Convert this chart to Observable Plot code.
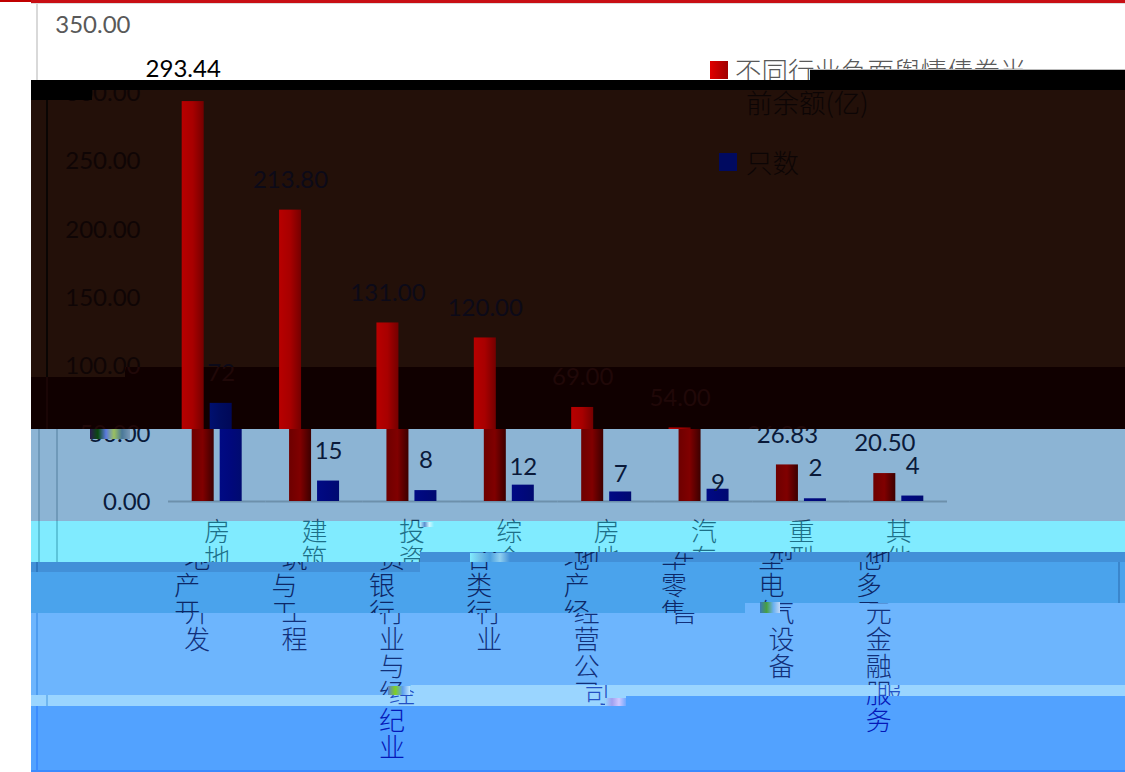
<!DOCTYPE html>
<html><head><meta charset="utf-8">
<script src="https://cdn.jsdelivr.net/npm/d3@7"></script>
<script src="https://cdn.jsdelivr.net/npm/@observablehq/plot@0.6"></script>
<style>
html,body{margin:0;padding:0;background:#fff;overflow:hidden;width:1125px;height:772px}
#page{position:relative;width:1125px;height:772px;overflow:hidden}
.layer{position:absolute;left:0;top:0;width:1125px;height:772px}
.inner{position:absolute;left:0;top:0;width:1125px;height:772px}
.inner svg{position:absolute;left:0;top:0;background:transparent;overflow:visible}
.vline{position:absolute;top:0;height:772px;width:2px}
.sw{position:absolute;width:18px;height:18px}
.lg{position:absolute;font:300 26.5px/32px "Noto Sans CJK SC",sans-serif;white-space:nowrap}
.fx{position:absolute}
</style></head><body><div id="page"></div>
<script>
const categories = ["房地产开发","建筑与工程","投资银行业与经纪业","综合类行业","房地产经营公司","汽车零售","重型电气设备","其他多元金融服务"];
const balance = [293.44,213.80,131.00,120.00,69.00,54.00,26.83,20.50];
const counts = [72,15,8,12,7,9,2,4];
const seriesNames = ["不同行业负面舆情债券当前余额(亿)","只数"];
const yTicks = [0,50,100,150,200,250,300,350];
const rows = categories.flatMap((c,i)=>[
  {cat:c,series:seriesNames[0],value:balance[i],label:balance[i].toFixed(2)},
  {cat:c,series:seriesNames[1],value:counts[i],label:String(counts[i])}
]);
const latin = 'Lato,"Open Sans",sans-serif';
const cjk = '"Noto Sans CJK SC",sans-serif';

function chart(L,id){
  const grad=(name,stops)=>()=>{
    const svg=d3.create("svg:defs");
    const g=svg.append("linearGradient").attr("id",name);
    stops.forEach((c,i)=>g.append("stop").attr("offset",i/2).attr("stop-color",c));
    return svg.node();
  };
  const labelMark=(test,dy)=>Plot.text(rows.filter(test),{fx:"cat",x:"series",y:"value",text:"label",dy,lineAnchor:"middle",fontSize:24,fontFamily:latin,fill:L.data});
  return Plot.plot({
    width:1125,height:772,marginLeft:168,marginRight:178,marginTop:24,marginBottom:271,
    style:{background:"transparent",overflow:"visible"},
    x:{axis:null,domain:seriesNames,paddingInner:0.214,paddingOuter:0.846,round:false},
    fx:{domain:categories,padding:0,label:null,round:false},
    y:{domain:[0,350],axis:null},
    marks:[
      grad("r"+id,L.red),
      grad("b"+id,L.blue),
      Plot.ruleY([0],{stroke:L.rule,strokeWidth:2}),
      Plot.barY(rows.filter(d=>d.series===seriesNames[0]),{fx:"cat",x:"series",y:"value",fill:`url(#r${id})`}),
      Plot.barY(rows.filter(d=>d.series===seriesNames[1]),{fx:"cat",x:"series",y:"value",fill:`url(#b${id})`}),
      labelMark(d=>!["293.44","12","7","9"].includes(d.label),-30),
      labelMark(d=>d.label==="293.44",-32),
      labelMark(d=>d.label==="12"||d.label==="7",-18),
      labelMark(d=>d.label==="9",-6),
      Plot.axisY({ticks:yTicks,tickFormat:d=>d.toFixed(2),tickSize:0,tickPadding:18,label:null,fontSize:24,fontFamily:latin,fill:L.axis,dy:1}),
      Plot.axisFx({anchor:"bottom",tickSize:0,tickPadding:20,label:null,lineHeight:1.04,fontSize:26,fontFamily:cjk,fontWeight:300,fill:L.cat,
        tickFormat:s=>[...s].join("\n")})
    ]
  });
}

const N="#0a1a3a";
const lowR=["#6e0000","#800000","#3c0000"], lowB=["#000a84","#00087c","#000a70"];
const layers=[
 {bg:"#fff",dx:-20,y:[0,80],clip:"0 0,1125px 0,1125px 70px,810px 70px,810px 80px,31px 80px,31px 772px,0 772px",
  red:["#e00000","#c00000","#a00000"],blue:["#000080","#000070","#000060"],rule:"#ccc",data:"#000",axis:"#595959",cat:"#595959",legend:"#595959",line:"#d9d9d9"},
 {bg:"#231009",dx:-10,y:[90,377],clip:"31px 90px,1125px 90px,1125px 367px,125px 367px,125px 377px,31px 377px",
  red:["#b80000","#a80000","#740000"],blue:["#000a60","#000a5c","#000050"],rule:"#111",data:"#0c0a18",axis:"#0f0505",cat:"#111",legend:"#0c0505",line:"#0a0503"},
 {bg:"#100000",dx:-10,y:[367,439],clip:"125px 367px,1125px 367px,1125px 429px,133px 429px,133px 439px,31px 439px,31px 377px,125px 377px",
  red:["#b80000","#a80000","#740000"],blue:["#001070","#000c60","#000858"],rule:"#111",data:"#200808",axis:"#200808",cat:"#111",legend:"#111",line:"#1a0505"},
 {bg:"#8cb4d4",dx:0,y:[429,521],clip:"31px 429px,1125px 429px,1125px 521px,31px 521px",line2:39,
  red:lowR,blue:lowB,rule:"#6d90ab",data:N,axis:N,cat:"#1c3f63",legend:N,line:"#6f99b9"},
 {bg:"#80ebff",dx:0,y:[521,562],clip:"31px 521px,1125px 521px,1125px 552px,420px 552px,420px 562px,31px 562px",line2:39,
  red:lowR,blue:lowB,rule:"#555",data:N,axis:N,cat:"#1d6f88",legend:N,line:"#5cc4da"},
 {bg:"#4290d8",dx:-20,y:[552,572],clip:"420px 552px,1125px 552px,1125px 562px,420px 562px,420px 572px,31px 572px,31px 562px,420px 562px",
  red:lowR,blue:lowB,rule:"#555",data:N,axis:N,cat:"#0b2560",legend:N,line:"#2f78c0"},
 {bg:"#4aa3ec",dx:-30,y:[562,613],clip:"31px 572px,420px 572px,420px 562px,1125px 562px,1125px 603px,745px 603px,745px 613px,31px 613px",edgeLine:"#3a86cc",
  red:lowR,blue:lowB,rule:"#555",data:N,axis:N,cat:"#0d2766",legend:N,line:"transparent"},
 {bg:"#6db5fd",dx:-20,y:[603,695],clip:"31px 613px,745px 613px,745px 603px,1125px 603px,1125px 685px,410px 685px,410px 695px,31px 695px",
  red:lowR,blue:lowB,rule:"#555",data:N,axis:N,cat:"#12307a",legend:N,line:"#4d9cf0"},
 {bg:"#9ad5ff",dx:-10,y:[685,706],clip:"31px 695px,410px 695px,410px 685px,1125px 685px,1125px 696px,626px 696px,626px 706px,31px 706px",
  red:lowR,blue:lowB,rule:"#555",data:N,axis:N,cat:"#2350c4",legend:N,line:"#6fb6f0"},
 {bg:"#52a2ff",dx:-20,y:[696,772],clip:"31px 706px,626px 706px,626px 696px,1125px 696px,1125px 772px,31px 772px",
  red:lowR,blue:lowB,rule:"#555",data:N,axis:N,cat:"#0518b8",legend:N,line:"#3b8cff"}
];

const page=d3.select("#page");
layers.forEach((L,i)=>{
  const lay=page.append("div").attr("class","layer").style("background",L.bg).style("clip-path",`polygon(${L.clip})`);
  const inner=lay.append("div").attr("class","inner").style("transform",`translateX(${L.dx}px)`);
  inner.append("div").attr("class","vline").style("left","56px").style("background",L.line);
  inner.node().appendChild(chart(L,i));
  inner.append("div").attr("class","sw").style("left","730px").style("top","61px").style("background",`linear-gradient(90deg,${L.red[0]},${L.red[2]})`);
  inner.append("div").attr("class","sw").style("left","729px").style("top","153px").style("background",L.blue[0]);
  const name=seriesNames[0];
  inner.append("div").attr("class","lg").style("left","755px").style("top","54px").style("color",L.legend).text(name.slice(0,11));
  inner.append("div").attr("class","lg").style("left","756px").style("top","86px").style("color",L.legend).text(name.slice(11));
  inner.append("div").attr("class","lg").style("left","756px").style("top","146px").style("color",L.legend).text(seriesNames[1]);
  if(L.line2) lay.append("div").attr("class","vline").style("left","38px").style("background",L.line);
  if(L.edgeLine) lay.append("div").attr("class","vline").style("left","1118px").style("background",L.edgeLine);
  // a copy of a text that its band's clip never shows is dropped
  const outside=n=>{const r=n.getBoundingClientRect();return r.bottom<L.y[0]||r.top>L.y[1];};
  lay.selectAll("svg text, .lg").each(function(){
    const spans=[...this.querySelectorAll("tspan")];
    if(!spans.length){ if(outside(this)) this.remove(); return; }
    const gone=spans.map(outside);
    let pos=0;
    spans.forEach(s=>{
      if(s.hasAttribute("y")) pos=parseFloat(s.getAttribute("y"));
      else pos+=parseFloat(s.getAttribute("dy"))||0;
      s.removeAttribute("dy");
      s.setAttribute("y",pos+"em");
    });
    spans.forEach((s,k)=>{ if(gone[k]) s.remove(); });
  });
});
// black strip, top rule
page.append("div").attr("class","layer").style("background","#000")
  .style("clip-path","polygon(31px 80px,810px 80px,810px 70px,1125px 70px,1125px 90px,92px 90px,92px 100px,31px 100px)");
const box=(x,y,w,h,bg)=>page.append("div").attr("class","fx").style("left",x+"px").style("top",y+"px").style("width",w+"px").style("height",h+"px").style("background",bg);
box(810,69,315,1,"#bbb");
box(31,0,1094,3,"#c80f14");
box(0,0,31,2,"#c00000");
box(31,3,1094,1,"#ddd");
box(31,770,1094,2,"#3b8cff");
// compression specks of the picture
const speck="linear-gradient(90deg,#2a1a50,#0a4a10,#5a7ae0,#9ac060,#4a7898,#7a9ab8)";
box(90,429,40,10,speck);
box(420,522,14,5,"linear-gradient(90deg,#b8f0ff,#5a90d0,#d0f8ff,#80ebff)");
box(470,553,40,9,"linear-gradient(90deg,#80ebff,#70c0e8,#4aa0e0,#90d0f0,#4290d8)");
box(388,686,22,9,"linear-gradient(90deg,#5a80d0,#80d020,#60a0f0,#c0e8ff)");
box(760,602,20,11,"linear-gradient(90deg,#3a78b8,#48a040,#6ab0f0,#c0d8f8)");
box(605,698,21,8,"linear-gradient(90deg,#9ad5ff,#a0a0f0,#d0c8ff,#70a8ff)");
</script></body></html>
